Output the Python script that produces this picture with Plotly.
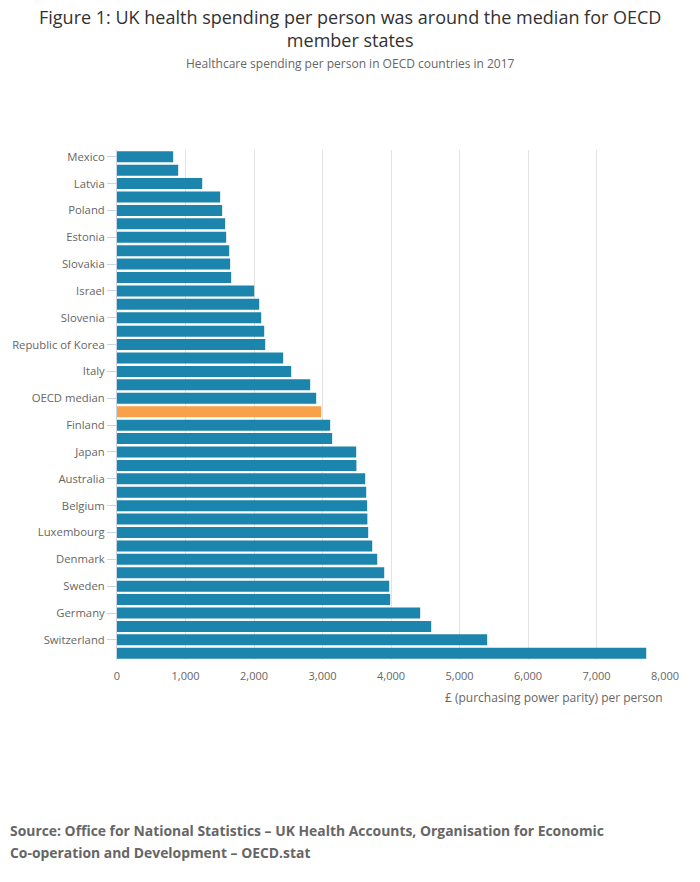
import plotly.graph_objects as go

countries = [
    "Mexico", "Turkey", "Latvia", "Hungary", "Poland", "Greece", "Estonia", "Chile",
    "Slovakia", "Lithuania", "Israel", "Portugal", "Slovenia", "Czech Republic",
    "Republic of Korea", "Spain", "Italy", "New Zealand", "OECD median", "United Kingdom",
    "Finland", "Iceland", "Japan", "France", "Australia", "Canada", "Belgium", "Ireland",
    "Luxembourg", "Netherlands", "Denmark", "Austria", "Sweden", "Norway2", "Germany",
    "Norway", "Switzerland", "United States",
]
spending = [
    820, 893, 1244, 1506, 1535, 1579, 1594, 1638, 1652, 1667, 2003, 2076, 2105, 2149,
    2164, 2426, 2543, 2820, 2908, 2981, 3112, 3141, 3492, 3495, 3623, 3638, 3652, 3655,
    3667, 3726, 3799, 3901, 3974, 3988, 4426, 4587, 5404, 7726,
]
labelled = [
    "Mexico", "Latvia", "Poland", "Estonia", "Slovakia", "Israel", "Slovenia",
    "Republic of Korea", "Italy", "OECD median", "Finland", "Japan", "Australia",
    "Belgium", "Luxembourg", "Denmark", "Sweden", "Germany", "Switzerland",
]
x_ticks = [0, 1000, 2000, 3000, 4000, 5000, 6000, 7000, 8000]
x_tick_text = ["0", "1,000", "2,000", "3,000", "4,000", "5,000", "6,000", "7,000", "8,000"]

title_text = ("Figure 1: UK health spending per person was around the median for OECD"
              "<br>member states")
subtitle = "Healthcare spending per person in OECD countries in 2017"
x_title = "£ (purchasing power parity) per person"
source_lines = ["Source: Office for National Statistics – UK Health Accounts, Organisation for Economic",
                "Co-operation and Development – OECD.stat"]

BLUE = "#1b85ad"
ORANGE = "#f7a14b"
colors = [ORANGE if c == "United Kingdom" else BLUE for c in countries]

W, H = 700, 882
ML, MR, MT, MB = 117, 35, 150, 222
plot_h = H - MT - MB

def py(px):  # pixel y (from top) -> paper coordinate
    return (H - MB - px) / plot_h

def px_x(px):
    return (px - ML) / (W - ML - MR)

fig = go.Figure(go.Bar(
    x=spending, y=countries, orientation="h",
    marker=dict(color=colors, line=dict(width=0)),
    hoverinfo="x+y",
))

annotations = [
    dict(text=title_text, x=px_x(350), xref="paper", y=py(28.5), yref="paper",
         xanchor="center", yanchor="middle", align="center", showarrow=False,
         font=dict(size=18, color="#323132")),
    dict(text=subtitle, x=px_x(350), xref="paper", y=py(64), yref="paper",
         xanchor="center", yanchor="middle", showarrow=False,
         font=dict(size=12, color="#666666")),
    dict(text=x_title, x=px_x(665), xref="paper", y=py(697), yref="paper",
         xanchor="right", yanchor="middle", showarrow=False,
         font=dict(size=12, color="#666666")),
]
for line, yc in zip(source_lines, [830, 852]):
    annotations.append(dict(text="<b>" + line + "</b>", x=px_x(8), xref="paper", y=py(yc),
                            yref="paper", xanchor="left", yanchor="middle", showarrow=False,
                            font=dict(size=13.9, color="#666666")))

fig.update_layout(
    width=W, height=H,
    margin=dict(l=ML, r=MR, t=MT, b=MB),
    paper_bgcolor="white", plot_bgcolor="white",
    font=dict(family="Open Sans", color="#666666", size=11),
    bargap=0.18,
    showlegend=False,
    xaxis=dict(
        range=[0, 8000], tickvals=x_ticks, ticktext=x_tick_text,
        showgrid=True, gridcolor="#e3e3e3", gridwidth=1,
        zeroline=False, showline=False, ticks="",
        ticklabelstandoff=8,
        tickfont=dict(size=11, color="#666666"),
    ),
    yaxis=dict(
        type="category", autorange="reversed",
        tickmode="array", tickvals=labelled, ticktext=labelled,
        showline=True, linecolor="#c8d3e3", linewidth=1,
        ticks="outside", ticklen=9, tickcolor="#c8d3e3",
        tickfont=dict(size=11.3, color="#666666"),
        showgrid=False,
    ),
    annotations=annotations,
)

fig.write_html("out.html", config={"displayModeBar": False},
               post_script="document.body.style.margin='0';document.body.style.padding='0';")
